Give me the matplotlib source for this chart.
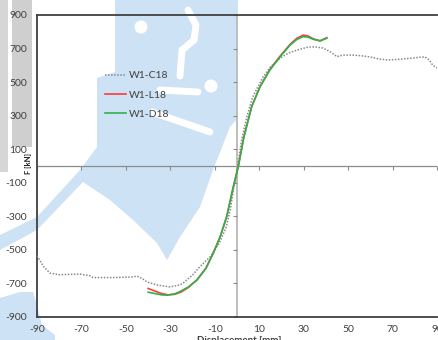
import numpy as np
import matplotlib.pyplot as plt
from matplotlib.patches import Polygon, Rectangle, Circle

plt.rcParams['font.family'] = ['Lato', 'DejaVu Sans']
plt.rcParams['axes.unicode_minus'] = False

# W1-C18 (cyclic envelope)
c18_x = [-90, -87, -84.2, -80, -75, -70.7, -66, -64.8, -56, -50, -46.8, -45, -42.5, -40.5,
         -36, -30.2, -25.7, -24, -20, -16.7, -12, -8, -5, -3, -1.5, 0, 1, 2, 4.4, 7,
         11.7, 15, 19.4, 23, 27, 32, 35, 38.7, 42, 45, 47.7, 52, 56, 59.8, 64, 67.5,
         72, 76, 79.2, 82, 84.6, 86.5, 88, 90]
c18_y = [-535, -600, -638, -648, -646, -644, -655, -665, -665, -663, -661, -656, -672, -691,
         -709, -721, -709, -695, -650, -600, -540, -460, -370, -260, -130, -30, 60, 150,
         292, 410, 530, 590, 643, 672, 691, 709, 710, 703, 680, 652, 661, 661, 657, 650,
         638, 632, 635, 640, 643, 648, 650, 632, 602, 584]

# W1-L18
l18_x = [-40, -37, -34, -31, -28, -25, -22, -18, -14, -10.7, -7.5, -4.6, -1.65, 0.6, 3,
         6.6, 10.4, 14.8, 19.4, 23.9, 27, 29.8, 32, 34.3, 37.4, 40.4]
l18_y = [-730, -745, -760, -768, -765, -750, -725, -678, -610, -520, -420, -300, -125, 0,
         170, 355, 475, 575, 655, 725, 762, 780, 775, 758, 745, 765]

# W1-D18
d18_x = [-40, -37, -34, -31.6, -28, -25.6, -22, -18, -14, -10.7, -7.5, -4.6, -1.65, 0.6,
         3, 6.6, 10.4, 14.8, 19.4, 23.9, 27, 29.8, 32, 34.3, 37.4, 40.4]
d18_y = [-752, -760, -768, -770, -762, -748, -722, -680, -610, -520, -418, -300, -123, -4,
         165, 353, 473, 572, 651, 721, 755, 771, 768, 755, 747, 761]

x_ticks = list(range(-90, 91, 20))
y_ticks = list(range(-900, 901, 200))

fig = plt.figure(figsize=(4.38, 3.40), dpi=100)

# background layer in pixel units: gray strip and light blue mark
bg = fig.add_axes([0, 0, 1, 1], zorder=0)
bg.set_xlim(0, 438)
bg.set_ylim(340, 0)
bg.axis('off')
blue = '#cde2f4'
bg.add_patch(Rectangle((0, 0), 8, 172, color='#d6d6d6', lw=0))
bg.add_patch(Rectangle((12, 0), 20, 147, color='#cfcfcf', lw=0))
mark = [(115, 0), (115, 72), (97, 78), (97, 147), (80, 170), (37, 217), (0, 235),
        (0, 250), (37, 230), (83, 182), (110, 200), (133, 220), (157, 243), (167, 260),
        (180, 237), (200, 207), (213, 170), (230, 127), (238, 118), (238, 0)]
bg.add_patch(Polygon(mark, closed=True, color=blue, lw=0))
bg.add_patch(Polygon([(0, 298), (20, 292), (33, 292), (37, 305), (42, 325), (55, 335),
                      (55, 340), (0, 340)], closed=True, color=blue, lw=0))
for pts in ([(188, 10), (196, 25), (194, 40), (182, 50), (180, 76)],
            [(160, 90), (198, 92)],
            [(152, 112), (210, 132)]):
    px, py = zip(*pts)
    bg.plot(px, py, color='white', lw=5, solid_capstyle='round')
bg.add_patch(Circle((141, 27), 6.5, color='white', lw=0))
bg.add_patch(Circle((211, 86), 6.5, color='white', lw=0))

ax = fig.add_axes([37 / 438, 23 / 340, 400 / 438, 302 / 340], zorder=1)
ax.patch.set_alpha(0)
ax.set_xlim(-90, 90)
ax.set_ylim(-900, 900)
ax.set_xticks(x_ticks)
ax.set_yticks(y_ticks)
ax.tick_params(length=0, labelsize=7.5, labelcolor='#404040')
ax.tick_params(axis='y', pad=7)
ax.tick_params(axis='x', pad=6)
for side in ('left', 'top', 'bottom'):
    ax.spines[side].set_color('#404040')
    ax.spines[side].set_linewidth(1.3)
ax.spines['right'].set_visible(False)

# axes crossing at zero, with their own tick marks
ax.axhline(0, color='#8c8c8c', lw=0.9, zorder=1)
ax.axvline(0, color='#bdbdbd', lw=1.4, zorder=1)
ax.plot(x_ticks, np.zeros(len(x_ticks)), ls='none', marker=3, ms=3, mew=0.8,
        color='#8c8c8c', zorder=1)
ax.plot(np.zeros(len(y_ticks)), y_ticks, ls='none', marker=0, ms=3, mew=0.8,
        color='#8c8c8c', zorder=1)

ax.plot(c18_x, c18_y, color='#8a8a8a', lw=1.1, ls=(0, (1, 1)), label='W1-C18', zorder=3)
ax.plot(l18_x, l18_y, color='#ff3b3b', lw=1.2, label='W1-L18', zorder=3)
ax.plot(d18_x, d18_y, color='#2eb24e', lw=1.2, label='W1-D18', zorder=4)

ax.legend(loc='upper left', bbox_to_anchor=(0.17, 0.815), frameon=False, fontsize=7.5,
          labelcolor='#404040', handlelength=2.0, handletextpad=0.3,
          labelspacing=0.97, borderpad=0, borderaxespad=0)

fig.text(28 / 438, 1 - 163 / 340, 'F [kN]', rotation=90, fontsize=5.5, fontweight='bold',
         color='#202020', ha='center', va='center')
fig.text(239 / 438, 1 - 336 / 340, 'Displacement [mm]', fontsize=7, fontweight='bold',
         color='#404040', ha='center', va='top')

fig.savefig('out.png', dpi=100)
